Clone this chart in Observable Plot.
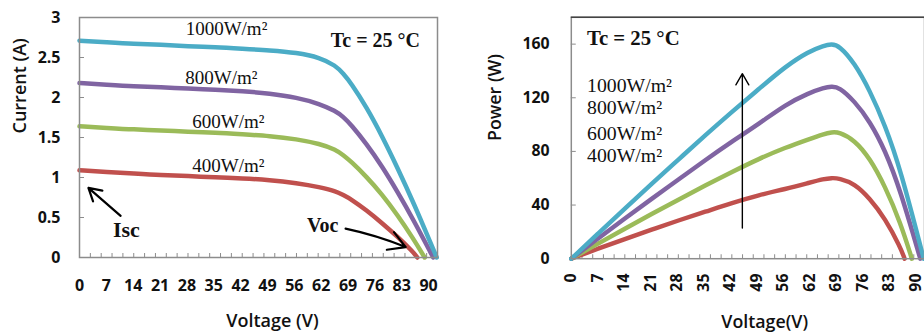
<!DOCTYPE html>
<html><head><meta charset="utf-8">
<script src="https://cdn.jsdelivr.net/npm/d3@7"></script>
<script src="https://cdn.jsdelivr.net/npm/@observablehq/plot@0.6"></script>
<style>
html,body{margin:0;padding:0;background:#fff;}
#wrap{position:relative;width:924px;height:336px;overflow:hidden;background:#fff;}
#left{position:absolute;left:0;top:0;}
#right{position:absolute;left:460px;top:0;}
</style></head><body><div id="wrap"><div id="left"></div><div id="right"></div></div>
<script>
// ---- data ----
const voltage = [0, 7, 14, 21, 28, 35, 42, 49, 56, 62, 66, 68, 70, 74, 78, 82, 86];
const series = ["400W/m²", "600W/m²", "800W/m²", "1000W/m²"];
const colors = ["#C0504D", "#9BBB59", "#8064A2", "#4BACC6"];
const voc = [87.1, 89.0, 91.2, 92.1];

const current400  = [1.09, 1.07, 1.05, 1.03, 1.02, 1.00, 0.99, 0.97, 0.93, 0.88, 0.83, 0.78, 0.73, 0.59, 0.43, 0.26, 0.07];
const current600  = [1.64, 1.62, 1.60, 1.59, 1.57, 1.56, 1.54, 1.52, 1.48, 1.42, 1.35, 1.28, 1.20, 1.01, 0.79, 0.53, 0.24];
const current800  = [2.18, 2.16, 2.14, 2.13, 2.11, 2.10, 2.08, 2.05, 2.00, 1.92, 1.83, 1.76, 1.66, 1.42, 1.14, 0.82, 0.48];
const current1000 = [2.71, 2.69, 2.67, 2.66, 2.64, 2.63, 2.61, 2.59, 2.56, 2.50, 2.40, 2.30, 2.18, 1.88, 1.52, 1.12, 0.70];

const power400  = [0, 7.5, 14.7, 21.6, 28.6, 35.0, 41.6, 47.5, 52.0, 56.5, 59.5, 60.2, 60.0, 56.0, 45.0, 30.0, 8.5];
const power600  = [0, 11.3, 22.4, 33.4, 44.0, 54.6, 64.7, 74.5, 82.9, 89.0, 93.0, 94.3, 94.5, 88.5, 75.0, 54.0, 27.0];
const power800  = [0, 15.1, 30.0, 44.7, 59.0, 73.5, 87.4, 100.5, 115.0, 123.5, 127.5, 128.5, 128.0, 117.5, 102.5, 81.0, 51.0];
const power1000 = [0, 18.8, 37.4, 55.9, 73.9, 92.0, 109.6, 126.5, 143.5, 154.5, 159.0, 160.0, 159.0, 146.0, 125.5, 99.5, 67.0];

const xTickLabels = ["0", "7", "14", "21", "28", "35", "42", "49", "56", "62", "69", "76", "83", "90"];
const currentTicks = [0, 0.5, 1, 1.5, 2, 2.5, 3];
const currentTickLabels = ["0", "0.5", "1", "1.5", "2", "2.5", "3"];
const powerTicks = [0, 40, 80, 120, 160];

// annotation anchors (data units)
const ivLabelV = [38.4, 38.4, 36.6, 37.9];
const ivLabelI = [1.14, 1.70, 2.25, 2.86];
const pvLabelP = [76.8, 93, 113, 129];

// ---- build tables ----
const currents = [current400, current600, current800, current1000];
const powers = [power400, power600, power800, power1000];
const ivRows = [], pvRows = [];
series.forEach((s, k) => {
  voltage.forEach((v, i) => {
    ivRows.push({series: s, V: v, I: currents[k][i]});
    pvRows.push({series: s, V: v, P: powers[k][i]});
  });
  ivRows.push({series: s, V: voc[k], I: 0});
  pvRows.push({series: s, V: voc[k], P: 0});
});

const xMax = 92.3;
const xTickPos = xTickLabels.map((d, i) => i * 90 / (xTickLabels.length - 1));
const labelMap = new Map(xTickPos.map((p, i) => [p, xTickLabels[i]]));
const minorTicks = d3.range(1, 33).map(k => k * xMax / 33);

const sans = "Open Sans";
const serif = "Liberation Serif";
const frameColor = "#8c8c8c";

const left = Plot.plot({
  width: 460, height: 336,
  marginLeft: 79, marginRight: 23, marginTop: 17, marginBottom: 79,
  x: {domain: [0, xMax], axis: null},
  y: {domain: [0, 3], axis: null},
  color: {domain: series, range: colors},
  style: {fontFamily: sans, fontSize: "16px", fontWeight: "bold", color: "#111", background: "#fff", overflow: "visible"},
  marks: [
    Plot.axisX({ticks: minorTicks, tickSize: -4, tickFormat: () => "", stroke: frameColor, label: null}),
    Plot.axisX({ticks: xTickPos, tickSize: 0, tickPadding: 22, tickFormat: d => labelMap.get(d), label: null}),
    Plot.axisY({ticks: currentTicks, tickSize: -5, tickFormat: () => "", stroke: frameColor, label: null}),
    Plot.axisY({ticks: currentTicks, tickSize: 0, tickPadding: 19, tickFormat: (d) => currentTickLabels[currentTicks.indexOf(d)], label: null}),
    Plot.line(ivRows, {x: "V", y: "I", z: "series", stroke: "series", strokeWidth: 4.5, curve: "basis"}),
    Plot.frame({stroke: frameColor, strokeWidth: 1.5}),
    Plot.text(series, {x: (d, i) => ivLabelV[i], y: (d, i) => ivLabelI[i], text: d => d, fontFamily: serif, fontSize: 19, fontWeight: "normal", letterSpacing: 0.6}),
    Plot.text(["Tc = 25 °C"], {x: [76.3], y: [2.71], text: d => d, fontFamily: serif, fontSize: 20, fontWeight: "bold"}),
    Plot.text(["Isc"], {x: [12.1], y: [0.35], text: d => d, fontFamily: serif, fontSize: 22, fontWeight: "bold"}),
    Plot.text(["Voc"], {x: [62.7], y: [0.40], text: d => d, fontFamily: serif, fontSize: 20, fontWeight: "bold", letterSpacing: 2}),
    Plot.arrow([0], {x1: [10.6], y1: [0.52], x2: [2.3], y2: [0.87], stroke: "#000", strokeWidth: 2.2, headLength: 13}),
    Plot.arrow([0], {x1: [68.6], y1: [0.36], x2: [84.1], y2: [0.13], stroke: "#000", strokeWidth: 2.2, headLength: 13, bend: 5}),
    Plot.text(["Voltage (V)"], {frameAnchor: "bottom", dy: 69, dx: 14, text: d => d, fontSize: 18, fontWeight: 600}),
    Plot.text(["Current (A)"], {frameAnchor: "left", rotate: -90, dx: -59, dy: -4, text: d => d, fontSize: 18, fontWeight: 600})
  ]
});
document.getElementById("left").appendChild(left);

const right = Plot.plot({
  width: 469, height: 336,
  marginLeft: 112, marginRight: 0, marginTop: 17, marginBottom: 75,
  x: {domain: [0, xMax], axis: null},
  y: {domain: [0, 180], axis: null},
  color: {domain: series, range: colors},
  style: {fontFamily: sans, fontSize: "16px", fontWeight: "bold", color: "#111", background: "#fff", overflow: "visible"},
  marks: [
    Plot.axisX({ticks: minorTicks, tickSize: -4, tickFormat: () => "", stroke: frameColor, label: null}),
    Plot.axisX({ticks: xTickPos, tickSize: 0, tickPadding: 15, tickRotate: -90, tickFormat: d => labelMap.get(d), label: null}),
    Plot.axisY({ticks: powerTicks, tickSize: -5, tickFormat: () => "", stroke: frameColor, label: null}),
    Plot.axisY({ticks: powerTicks, tickSize: 0, tickPadding: 22, tickFormat: d => String(d), label: null}),
    Plot.line(pvRows, {x: "V", y: "P", z: "series", stroke: "series", strokeWidth: 4.5, curve: "basis"}),
    Plot.frame({stroke: frameColor, strokeWidth: 1.5}),
    Plot.ruleY([180], {stroke: "#444", strokeWidth: 1.5}),
    Plot.text(series, {x: 4.1, y: (d, i) => pvLabelP[i], text: d => d, textAnchor: "start", fontFamily: serif, fontSize: 20, fontWeight: "normal", letterSpacing: 0.8}),
    Plot.text(["Tc = 25 °C"], {x: [4.1], y: [164.6], text: d => d, textAnchor: "start", fontFamily: serif, fontSize: 21, fontWeight: "bold"}),
    Plot.arrow([0], {x1: [44.7], y1: [22.9], x2: [44.7], y2: [138], stroke: "#000", strokeWidth: 1.4, headLength: 14}),
    Plot.text(["Voltage(V)"], {frameAnchor: "bottom", dy: 70, dx: 17, text: d => d, fontSize: 18, fontWeight: 600}),
    Plot.text(["Power (W)"], {frameAnchor: "left", rotate: -90, dx: -77, dy: 3, text: d => d, fontSize: 18, fontWeight: 600})
  ]
});
document.getElementById("right").appendChild(right);
</script></body></html>
